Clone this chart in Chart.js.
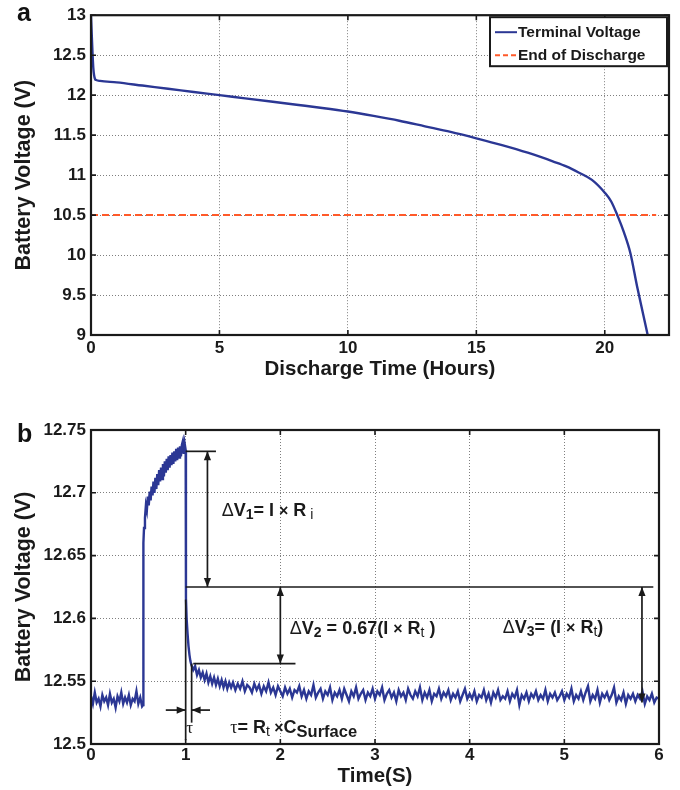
<!DOCTYPE html>
<html><head><meta charset="utf-8">
<script src="https://cdn.jsdelivr.net/npm/chart.js@4.4.0/dist/chart.umd.min.js"></script>
<style>
html,body{margin:0;padding:0;background:#fff;}
#wrap{position:relative;width:680px;height:790px;overflow:hidden;background:#fff;}
#boxA{position:absolute;left:0;top:0;width:680px;height:390px;}
#boxB{position:absolute;left:0;top:390px;width:680px;height:400px;}
.panel{position:absolute;font:bold 25px "Liberation Sans",Arial,sans-serif;line-height:25px;color:#111;}
</style></head><body>
<div id="wrap">
<div id="boxA"><canvas id="cA" width="680" height="390"></canvas></div>
<div id="boxB"><canvas id="cB" width="680" height="400"></canvas></div>
<div class="panel" style="left:17px;top:0px">a</div>
<div class="panel" style="left:17px;top:421px">b</div>
</div>
<script>
// ---------- Panel a data ----------
const dischargeHours = [0,0.03,0.06,0.09,0.12,0.16,0.2,0.35,1,2,3,4,5,6,7,8,9,10,11,12,13,14,15,16,17,18,18.5,19,19.5,20,20.25,20.5,20.75,21,21.25,21.5,21.67];
const terminalVolts = [13,12.75,12.52,12.34,12.25,12.2,12.19,12.178,12.16,12.12,12.08,12.04,12.0,11.96,11.92,11.88,11.84,11.795,11.74,11.68,11.61,11.54,11.46,11.375,11.28,11.17,11.11,11.03,10.94,10.78,10.67,10.49,10.28,10.02,9.62,9.25,9.0];
const eodHours = [0,22];
const eodVolts = [10.5,10.5];
const hourTicks = [0,5,10,15,20];
const hourLabels = ['0','5','10','15','20'];
const voltTicksA = [9,9.5,10,10.5,11,11.5,12,12.5,13];
const voltLabelsA = ['9','9.5','10','10.5','11','11.5','12','12.5','13'];
const seriesNamesA = ['Terminal Voltage','End of Discharge'];

// ---------- Panel b data ----------
const restStart = 0, restStep = 0.02;
const restVolts = [12.538,12.532,12.541,12.533,12.536,12.530,12.539,12.534,12.537,12.531,
 12.540,12.533,12.536,12.529,12.538,12.534,12.541,12.532,12.537,12.533,
 12.539,12.531,12.536,12.534,12.542,12.532,12.537,12.530];
const riseTimes = [0.55,0.552,0.555,0.56,0.57,0.58,0.59,
 0.60,0.61,0.62,0.63,0.64,0.65,0.66,0.67,0.68,0.69,0.70,0.71,0.72,0.73,0.74,0.75,0.76,0.77,0.78,0.79,
 0.80,0.81,0.82,0.83,0.84,0.85,0.86,0.87,0.88,0.89,0.90,0.91,0.92,0.93,0.94,0.95,0.96,0.97,0.98,0.99,1.00];
const riseVolts = [12.531,12.610,12.660,12.672,12.680,12.690,12.686,
 12.697,12.690,12.701,12.694,12.705,12.698,12.709,12.700,12.712,12.703,12.715,12.706,12.718,12.709,12.720,12.711,12.723,12.713,12.725,12.716,
 12.727,12.718,12.729,12.720,12.730,12.722,12.732,12.723,12.733,12.725,12.735,12.726,12.736,12.728,12.737,12.729,12.738,12.741,12.731,12.739,12.734];
const dropTimes = [1.003,1.01,1.02,1.03,1.04,1.05,1.06,1.08,1.10,1.12,1.14,1.16,1.18,1.20,1.22,1.24,1.26,1.28,1.30,1.32,1.34,1.36,1.38,1.40,1.42,1.44,1.46,1.48];
const dropVolts = [12.616,12.600,12.588,12.578,12.571,12.566,12.563,12.559,12.562,12.555,12.559,12.553,12.557,12.551,12.556,12.549,12.554,12.548,12.553,12.547,12.552,12.546,12.551,12.545,12.550,12.544,12.549,12.545];
const tailStart = 1.5, tailStep = 0.025;
const tailVolts = [
 12.549,12.543,12.548,12.544,12.550,12.542,12.547,12.545,12.541,12.548,
 12.543,12.547,12.540,12.546,12.542,12.549,12.541,12.545,12.539,12.546,
 12.542,12.538,12.545,12.540,12.544,12.537,12.543,12.541,12.546,12.538,
 12.543,12.536,12.542,12.539,12.547,12.537,12.541,12.544,12.536,12.542,
 12.539,12.545,12.535,12.541,12.538,12.543,12.536,12.544,12.539,12.534,
 12.542,12.538,12.545,12.536,12.540,12.543,12.535,12.541,12.538,12.544,
 12.536,12.542,12.539,12.545,12.535,12.540,12.543,12.537,12.541,12.534,
 12.543,12.538,12.541,12.535,12.544,12.539,12.536,12.542,12.538,12.545,
 12.535,12.541,12.537,12.543,12.534,12.540,12.538,12.544,12.536,12.541,
 12.538,12.543,12.535,12.540,12.537,12.542,12.534,12.539,12.544,12.536,
 12.540,12.536,12.542,12.534,12.539,12.537,12.543,12.535,12.540,12.533,
 12.541,12.537,12.543,12.535,12.538,12.536,12.542,12.534,12.540,12.537,
 12.543,12.531,12.539,12.536,12.541,12.534,12.540,12.537,12.542,12.535,
 12.539,12.536,12.543,12.534,12.540,12.537,12.541,12.535,12.538,12.542,
 12.535,12.540,12.537,12.544,12.534,12.539,12.536,12.542,12.535,12.541,
 12.546,12.534,12.539,12.536,12.543,12.533,12.540,12.537,12.541,12.535,
 12.539,12.545,12.533,12.538,12.535,12.541,12.532,12.539,12.536,12.540,
 12.534,12.539,12.536,12.542,12.532,12.538,12.535,12.540,12.533,12.537,
 12.536];
const timeTicks = [0,1,2,3,4,5,6];
const timeLabels = ['0','1','2','3','4','5','6'];
const voltTicksB = [12.5,12.55,12.6,12.65,12.7,12.75];
const voltLabelsB = ['12.5','12.55','12.6','12.65','12.7','12.75'];

// annotation levels (volts)
const levelRi = 12.733, levelStep = 12.625, levelRt67 = 12.564, levelRest = 12.533;

const F = '"Liberation Sans", Arial, Helvetica, sans-serif';
Chart.defaults.font.family = F;
Chart.defaults.color = '#1a1a1a';
const BLUE = '#2b3794';
const ORANGE = '#ff5a2a';
const TICKFONT = {size:17, weight:'bold'};
const XTITLEFONT = {size:20.5, weight:'bold'};
const YTITLEFONT = {size:21.5, weight:'bold'};

function frameTicks(len){
  return {
    id:'frame',
    afterDatasetsDraw(chart){
      const {ctx, chartArea:a, scales:{x,y}} = chart;
      ctx.save();
      ctx.strokeStyle = '#1a1a1a';
      ctx.lineWidth = 1.6;
      ctx.beginPath();
      x.ticks.forEach(t=>{const p=x.getPixelForValue(t.value);
        ctx.moveTo(p,a.bottom); ctx.lineTo(p,a.bottom-len);
        ctx.moveTo(p,a.top); ctx.lineTo(p,a.top+len);});
      y.ticks.forEach(t=>{const p=y.getPixelForValue(t.value);
        ctx.moveTo(a.left,p); ctx.lineTo(a.left+len,p);
        ctx.moveTo(a.right,p); ctx.lineTo(a.right-len,p);});
      ctx.stroke();
      ctx.lineWidth = 2.2;
      ctx.strokeRect(a.left,a.top,a.right-a.left,a.bottom-a.top);
      ctx.restore();
    }
  };
}

function axisCommon(){
  return {
    grid:{color:'rgba(0,0,0,0.5)', lineWidth:1, drawTicks:false},
    border:{display:false, dash:[1,2]},
  };
}

// ---------- Chart a ----------
const legendPlugin = {
  id:'legendBox',
  afterDraw(chart){
    const {ctx, chartArea:a} = chart;
    const w = 177, h = 49;
    const L = a.right - w - 2, T = a.top + 2;
    ctx.save();
    ctx.fillStyle = '#fff';
    ctx.fillRect(L,T,w,h);
    ctx.strokeStyle = '#1a1a1a'; ctx.lineWidth = 2;
    ctx.strokeRect(L,T,w,h);
    const rows = [T+15, T+38];
    ctx.lineWidth = 2;
    ctx.strokeStyle = BLUE; ctx.setLineDash([]);
    ctx.beginPath(); ctx.moveTo(L+5,rows[0]); ctx.lineTo(L+27,rows[0]); ctx.stroke();
    ctx.strokeStyle = ORANGE; ctx.setLineDash([5,3]);
    ctx.beginPath(); ctx.moveTo(L+5,rows[1]); ctx.lineTo(L+27,rows[1]); ctx.stroke();
    ctx.setLineDash([]);
    ctx.fillStyle = '#1a1a1a';
    ctx.font = 'bold 15.5px ' + F;
    ctx.textBaseline = 'middle';
    ctx.fillText(seriesNamesA[0], L+28, rows[0]+1);
    ctx.fillText(seriesNamesA[1], L+28, rows[1]+1);
    ctx.restore();
  }
};

new Chart(document.getElementById('cA'), {
  type:'line',
  data:{datasets:[
    {label:seriesNamesA[0], data:dischargeHours.map((t,i)=>({x:t,y:terminalVolts[i]})),
     borderColor:BLUE, borderWidth:2.4, pointRadius:0, cubicInterpolationMode:'monotone', fill:false},
    {label:seriesNamesA[1], data:eodHours.map((t,i)=>({x:t,y:eodVolts[i]})),
     borderColor:ORANGE, borderWidth:2, borderDash:[7,4], pointRadius:0, fill:false}
  ]},
  options:{
    responsive:false, animation:false, devicePixelRatio:1,
    layout:{padding:{top:15,right:11,left:0,bottom:0}},
    plugins:{legend:{display:false}, tooltip:{enabled:false}},
    scales:{
      x:Object.assign(axisCommon(),{type:'linear', min:0, max:22.5,
        afterBuildTicks(s){s.ticks = hourTicks.map(v=>({value:v}));},
        afterFit(s){s.height = 55;},
        ticks:{font:TICKFONT, color:'#1a1a1a', padding:3, maxRotation:0, autoSkip:false,
          callback:(v,i)=>hourLabels[i]},
        title:{display:true, text:'Discharge Time (Hours)', font:XTITLEFONT, color:'#1a1a1a', padding:{top:0,bottom:8}}
      }),
      y:Object.assign(axisCommon(),{type:'linear', min:9, max:13,
        afterBuildTicks(s){s.ticks = voltTicksA.map(v=>({value:v}));},
        afterFit(s){s.width = 91;},
        ticks:{font:TICKFONT, color:'#1a1a1a', padding:5, autoSkip:false,
          callback:(v,i)=>voltLabelsA[i]},
        title:{display:true, text:'Battery Voltage (V)', font:YTITLEFONT, color:'#1a1a1a', padding:{top:11,bottom:0}}
      })
    }
  },
  plugins:[frameTicks(5), legendPlugin]
});

// ---------- Chart b ----------
const pointsB = [];
restVolts.forEach((v,i)=>pointsB.push({x:restStart+i*restStep, y:v}));
riseTimes.forEach((t,i)=>pointsB.push({x:t, y:riseVolts[i]}));
dropTimes.forEach((t,i)=>pointsB.push({x:t, y:dropVolts[i]}));
tailVolts.forEach((v,i)=>pointsB.push({x:tailStart+i*tailStep, y:v}));

function head(ctx,x,y,dir){
  const L=9, W=3.6;
  ctx.beginPath();
  if(dir==='up'){ctx.moveTo(x,y);ctx.lineTo(x-W,y+L);ctx.lineTo(x+W,y+L);}
  if(dir==='down'){ctx.moveTo(x,y);ctx.lineTo(x-W,y-L);ctx.lineTo(x+W,y-L);}
  if(dir==='right'){ctx.moveTo(x,y);ctx.lineTo(x-L,y-W);ctx.lineTo(x-L,y+W);}
  if(dir==='left'){ctx.moveTo(x,y);ctx.lineTo(x+L,y-W);ctx.lineTo(x+L,y+W);}
  ctx.closePath(); ctx.fill();
}
function runs(ctx,x,y,list){
  let cx=x;
  list.forEach(r=>{ctx.font=r[1]; ctx.fillText(r[0],cx,y+(r[2]||0)); cx+=ctx.measureText(r[0]).width;});
}

const annotPlugin = {
  id:'annot',
  afterDatasetsDraw(chart){
    const {ctx, scales:{x,y}} = chart;
    const X=v=>x.getPixelForValue(v), Y=v=>y.getPixelForValue(v);
    ctx.save();
    ctx.strokeStyle='#1a1a1a'; ctx.fillStyle='#1a1a1a'; ctx.lineWidth=1.7;
    const seg=(t1,v1,t2,v2)=>{ctx.beginPath();ctx.moveTo(X(t1),Y(v1));ctx.lineTo(X(t2),Y(v2));ctx.stroke();};
    seg(1.0,levelRi,1.32,levelRi);
    seg(1.0,levelStep,5.94,levelStep);
    seg(1.08,levelRt67,2.16,levelRt67);
    seg(1.0,12.615,1.0,12.503);
    seg(1.063,levelRt67,1.063,12.517);
    const dbl=(t,v1,v2)=>{seg(t,v1,t,v2); head(ctx,X(t),Y(v1),'up'); head(ctx,X(t),Y(v2),'down');};
    dbl(1.23,levelRi,levelStep);
    dbl(2.0,levelStep,levelRt67);
    dbl(5.82,levelStep,levelRest);
    seg(0.79,12.527,1.0,12.527); head(ctx,X(1.0),Y(12.527),'right');
    seg(1.257,12.527,1.063,12.527); head(ctx,X(1.063),Y(12.527),'left');
    // text
    ctx.textBaseline='alphabetic';
    const B18='bold 18px '+F, B14='bold 14px '+F, N14='14px '+F, S18='18px '+F, X16='bold 16px '+F;
    runs(ctx,X(1.38),Y(12.6815),[['Δ',S18],['V',B18],['1',B14,3],['= I ',B18],['×',X16],[' R',B18],[' i',N14,3]]);
    runs(ctx,X(2.10),Y(12.5876),[['Δ',S18],['V',B18],['2',B14,3],[' = 0.67(I ',B18],['×',X16],[' R',B18],['t',N14,3],[' )',B18]]);
    runs(ctx,X(4.35),Y(12.5884),[['Δ',S18],['V',B18],['3',B14,3],['= (I ',B18],['×',X16],[' R',B18],['t',N14,3],[')',B18]]);
    runs(ctx,X(1.0)+0.5,Y(12.5088),[['τ','17px "Liberation Serif", serif']]);
    runs(ctx,X(1.47),Y(12.5088),[['τ','18px "Liberation Serif", serif'],['= R',B18],['t',N14,3],[' ×',X16],['C',B18],['Surface','bold 16.5px '+F,4]]);
    ctx.restore();
  }
};

new Chart(document.getElementById('cB'), {
  type:'line',
  data:{datasets:[
    {label:'Battery Voltage', data:pointsB, borderColor:BLUE, borderWidth:2.4, pointRadius:0, tension:0, fill:false}
  ]},
  options:{
    responsive:false, animation:false, devicePixelRatio:1,
    layout:{padding:{top:40,right:21,left:0,bottom:0}},
    plugins:{legend:{display:false}, tooltip:{enabled:false}},
    scales:{
      x:Object.assign(axisCommon(),{type:'linear', min:0, max:6,
        afterBuildTicks(s){s.ticks = timeTicks.map(v=>({value:v}));},
        afterFit(s){s.height = 46;},
        ticks:{font:TICKFONT, color:'#1a1a1a', padding:1, maxRotation:0, autoSkip:false,
          callback:(v,i)=>timeLabels[i]},
        title:{display:true, text:'Time(S)', font:XTITLEFONT, color:'#1a1a1a', padding:{top:0,bottom:1}}
      }),
      y:Object.assign(axisCommon(),{type:'linear', min:12.5, max:12.75,
        afterBuildTicks(s){s.ticks = voltTicksB.map(v=>({value:v}));},
        afterFit(s){s.width = 91;},
        ticks:{font:TICKFONT, color:'#1a1a1a', padding:5, autoSkip:false,
          callback:(v,i)=>voltLabelsB[i]},
        title:{display:true, text:'Battery Voltage (V)', font:YTITLEFONT, color:'#1a1a1a', padding:{top:11,bottom:0}}
      })
    }
  },
  plugins:[annotPlugin, frameTicks(5)]
});
</script>
</body></html>
